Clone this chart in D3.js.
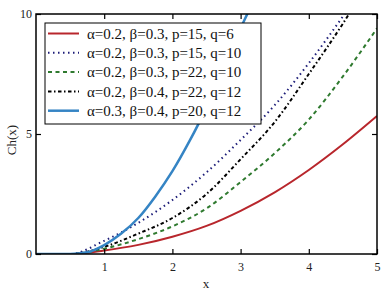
<!DOCTYPE html>
<html lang="en">
<head>
    <meta charset="UTF-8">
    <title>Ch(x) curves</title>
    <style>
        html, body { margin: 0; padding: 0; background: #fff; overflow: hidden; }
        text { font-family: "Liberation Serif", "Times New Roman", Times, serif; }
    </style>
</head>
<body>
<script src="https://cdn.jsdelivr.net/npm/d3@7"></script>
<script>

    const width = 389
    const height = 293
    const margin = { top: 14, right: 12, bottom: 39, left: 36 }
    const w = width - margin.left - margin.right
    const h = height - margin.top - margin.bottom

    // values
    const xTicks = [1, 2, 3, 4, 5]
    const yTicks = [0, 5, 10]

    const redX = [0, 0.5, 1, 1.5, 2, 2.5, 3, 3.5, 4, 4.5, 5]
    const redY = [0, 0, 0.15, 0.38, 0.72, 1.17, 1.8, 2.57, 3.5, 4.57, 5.75]

    const navyX = [0, 0.5, 1, 1.5, 2, 2.5, 3, 3.5, 4, 4.5, 4.6]
    const navyY = [0, 0, 0.55, 1.3, 2.25, 3.4, 4.75, 6.2, 7.95, 9.9, 10.3]

    const greenX = [0, 0.5, 1, 1.5, 2, 2.5, 3, 3.5, 4, 4.5, 5]
    const greenY = [0, 0, 0.22, 0.62, 1.15, 1.9, 3.0, 4.2, 5.6, 7.4, 9.4]

    const blackX = [0, 0.5, 1, 1.5, 2, 2.5, 3, 3.5, 4, 4.5, 4.7]
    const blackY = [0, 0, 0.3, 0.85, 1.5, 2.5, 3.95, 5.5, 7.5, 9.6, 10.5]

    const blueX = [0, 0.5, 0.75, 1, 1.25, 1.5, 1.75, 2, 2.25, 2.5, 2.75, 3, 3.2]
    const blueY = [0, 0, 0.07, 0.37, 0.85, 1.5, 2.4, 3.45, 4.7, 6.1, 7.7, 9.4, 10.6]

    const labels = [
        'α=0.2, β=0.3, p=15, q=6',
        'α=0.2, β=0.3, p=15, q=10',
        'α=0.2, β=0.3, p=22, q=10',
        'α=0.2, β=0.4, p=22, q=12',
        'α=0.3, β=0.4, p=20, q=12'
    ]

    const series = [
        { xs: redX, ys: redY, color: '#b8262c', width: 2, dash: null },
        { xs: navyX, ys: navyY, color: '#1c1c78', width: 2, dash: '1.5,3.5' },
        { xs: greenX, ys: greenY, color: '#2f7a2f', width: 2, dash: '4,3.5' },
        { xs: blackX, ys: blackY, color: '#000', width: 2, dash: '3.5,2.5,1.5,2.5' },
        { xs: blueX, ys: blueY, color: '#3584c4', width: 2.5, dash: null }
    ]

    const svg = d3.select('body')
        .append('svg')
        .attr('width', width)
        .attr('height', height)

    const x = d3.scaleLinear().domain([0, 5]).range([0, w])
    const y = d3.scaleLinear().domain([0, 10]).range([h, 0])

    const g = svg.append('g')
        .attr('transform', `translate(${margin.left}, ${margin.top})`)

    svg.append('defs').append('clipPath')
        .attr('id', 'clip')
        .append('rect')
        .attr('width', w)
        .attr('height', h)

    const line = d3.line()
        .x(d => x(d[0]))
        .y(d => y(d[1]))
        .curve(d3.curveMonotoneX)

    g.append('g')
        .attr('clip-path', 'url(#clip)')
        .selectAll('path')
        .data(series)
        .enter()
        .append('path')
        .attr('fill', 'none')
        .attr('stroke', d => d.color)
        .attr('stroke-width', d => d.width)
        .attr('stroke-dasharray', d => d.dash)
        .attr('d', d => line(d.xs.map((v, i) => [v, d.ys[i]])))

    // inward ticks on all four sides
    const tickLen = 5
    g.append('g')
        .attr('transform', `translate(0, ${h})`)
        .call(d3.axisBottom(x).tickValues(xTicks).tickSize(-tickLen).tickPadding(8).tickFormat(d3.format('d')))
    const yAxis = g.append('g')
        .call(d3.axisLeft(y).tickValues(yTicks).tickSize(-tickLen).tickPadding(3).tickFormat(d3.format('d')))
    g.append('g')
        .call(d3.axisTop(x).tickValues(xTicks).tickSize(-tickLen).tickFormat(''))
    g.append('g')
        .attr('transform', `translate(${w}, 0)`)
        .call(d3.axisRight(y).tickValues(yTicks).tickSize(-tickLen).tickFormat(''))

    g.selectAll('.domain').remove()
    g.selectAll('.tick line').attr('stroke', '#000').attr('stroke-width', 1.2)
    g.selectAll('.tick text')
        .attr('fill', '#222')
        .style('font-size', '12px')
        .style('font-family', '"Liberation Serif", "Times New Roman", serif')
    yAxis.selectAll('.tick text').attr('dx', '-1')

    g.append('rect')
        .attr('fill', 'none')
        .attr('stroke', '#000')
        .attr('stroke-width', 1.5)
        .attr('width', w)
        .attr('height', h)

    svg.append('text')
        .attr('x', 206)
        .attr('y', 288)
        .attr('text-anchor', 'middle')
        .style('font-size', '13px')
        .attr('fill', '#222')
        .text('x')

    svg.append('text')
        .attr('transform', 'translate(16, 140) rotate(-90)')
        .attr('text-anchor', 'middle')
        .style('font-size', '13px')
        .attr('fill', '#222')
        .text('Ch(x)')

    // legend
    const lg = svg.append('g').attr('transform', 'translate(45, 23)')
    lg.append('rect')
        .attr('width', 216)
        .attr('height', 101)
        .attr('fill', '#fff')
        .attr('stroke', '#000')
        .attr('stroke-width', 1)

    const rows = lg.selectAll('.row')
        .data(series)
        .enter()
        .append('g')
        .attr('class', 'row')
        .attr('transform', (d, i) => `translate(0, ${10.5 + i * 19.3})`)

    rows.append('line')
        .attr('x1', 3).attr('x2', 34)
        .attr('stroke', d => d.color)
        .attr('stroke-width', d => d.width)
        .attr('stroke-dasharray', d => d.dash)

    rows.append('text')
        .attr('x', 42)
        .attr('dy', '0.35em')
        .style('font-size', '15px')
        .attr('fill', '#111')
        .text((d, i) => labels[i])

</script>
</body>
</html>
